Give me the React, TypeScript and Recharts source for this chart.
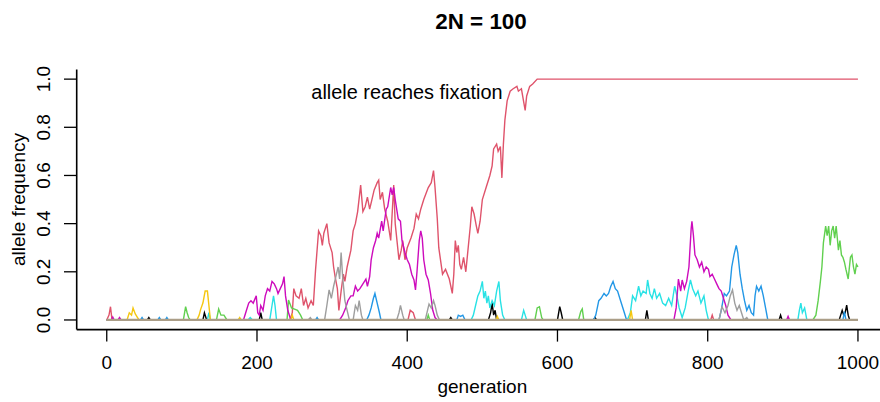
import { Line, LineChart, ReferenceDot, XAxis, YAxis } from 'recharts';

// generation / allele-frequency pairs, one list per replicate colour
const redPath: [number, number][] = [
    [0, 0], [3, 0.02], [5, 0.055], [7, 0], [244, 0], [247, 0.03], [249, 0.13], [252, 0.1], [256, 0.09],
    [259, 0.13], [262, 0.06], [265, 0.09], [268, 0.05], [272, 0.08], [275, 0.06], [278, 0.21], [282, 0.37],
    [285, 0.35], [287, 0.31], [289, 0.36], [293, 0.4], [296, 0.32], [300, 0.28], [302, 0.22], [304, 0.18],
    [307, 0.13], [309, 0.04], [312, 0.12], [315, 0.19], [317, 0.16], [320, 0.22], [325, 0.29], [328, 0.37],
    [331, 0.4], [334, 0.45], [338, 0.56], [341, 0.45], [344, 0.47], [347, 0.51], [350, 0.46], [353, 0.5],
    [356, 0.54], [360, 0.57], [362, 0.58], [364, 0.5], [367, 0.53], [370, 0.46], [374, 0.41], [378, 0.33],
    [382, 0.56], [384, 0.4], [389, 0.25], [392, 0.29], [394, 0.33], [397, 0.25], [400, 0.3], [405, 0.34],
    [409, 0.38], [412, 0.44], [415, 0.42], [418, 0.46], [422, 0.5], [428, 0.55], [432, 0.57], [435, 0.62],
    [437, 0.55], [440, 0.42], [442, 0.3], [447, 0.19], [451, 0.21], [456, 0.17], [460, 0.11], [462, 0.19],
    [464, 0.33], [466, 0.28], [468, 0.31], [470, 0.23], [472, 0.21], [475, 0.26], [478, 0.2], [484, 0.39],
    [486, 0.47], [489, 0.44], [492, 0.39], [494, 0.36], [497, 0.41], [500, 0.5], [505, 0.55], [510, 0.6],
    [513, 0.64], [515, 0.71], [519, 0.73], [521, 0.7], [524, 0.72], [526, 0.59], [528, 0.73], [530, 0.83],
    [533, 0.91], [537, 0.95], [541, 0.96], [546, 0.97], [548, 0.95], [552, 0.96], [557, 0.87], [559, 0.93],
    [563, 0.97], [567, 0.98], [573, 1], [1000, 1]
];
const red2Path: [number, number][] = [
    [0, 0], [401, 0], [404, 0.04], [408, 0.03], [411, 0], [804, 0], [806, 0.02], [808, 0], [1000, 0]
];
const magentaPath: [number, number][] = [
    [0, 0], [6, 0], [8, 0.012], [10, 0], [15, 0], [17, 0.01], [19, 0], [182, 0], [186, 0.04], [189, 0.07],
    [192, 0.08], [195, 0.07], [199, 0.1], [201, 0.03], [203, 0.02], [205, 0.06], [208, 0.04], [211, 0.1],
    [214, 0.13], [217, 0.12], [220, 0.16], [223, 0.15], [226, 0.13], [228, 0.11], [231, 0.13], [234, 0.15],
    [236, 0.18], [238, 0.1], [241, 0.04], [245, 0], [310, 0], [314, 0.02], [318, 0.05], [321, 0.08],
    [325, 0.1], [328, 0.1], [331, 0.14], [334, 0.12], [337, 0.13], [341, 0.15], [345, 0.17], [347, 0.14],
    [350, 0.18], [352, 0.25], [355, 0.3], [358, 0.33], [360, 0.36], [362, 0.34], [366, 0.41], [368, 0.37],
    [370, 0.415], [372, 0.46], [374, 0.47], [378, 0.55], [380, 0.52], [382, 0.55], [384, 0.5], [388, 0.42],
    [391, 0.41], [393, 0.33], [397, 0.28], [400, 0.25], [403, 0.23], [406, 0.19], [409, 0.166], [411, 0.125],
    [413, 0.2], [416, 0.33], [418, 0.37], [420, 0.34], [422, 0.25], [425, 0.19], [428, 0.166], [431, 0.11],
    [434, 0.04], [437, 0.01], [440, 0], [755, 0], [758, 0.05], [761, 0.17], [764, 0.12], [766, 0.166],
    [769, 0.13], [772, 0.16], [775, 0.22], [778, 0.38], [779, 0.41], [781, 0.35], [783, 0.27], [786, 0.25],
    [789, 0.22], [792, 0.24], [795, 0.2], [798, 0.22], [801, 0.21], [803, 0.18], [806, 0.19], [809, 0.17],
    [812, 0.15], [815, 0.13], [818, 0.12], [821, 0.09], [824, 0.06], [827, 0.02], [831, 0], [905, 0],
    [907, 0.015], [909, 0], [1000, 0]
];
const bluePath: [number, number][] = [
    [0, 0], [45, 0], [47, 0.01], [49, 0], [68, 0], [70, 0.01], [72, 0], [78, 0], [80, 0.01], [82, 0],
    [278, 0], [280, 0.01], [282, 0], [346, 0], [349, 0.02], [352, 0.05], [355, 0.09], [357, 0.11], [360, 0.07],
    [363, 0.03], [365, 0], [466, 0], [468, 0.02], [471, 0.015], [474, 0.02], [477, 0], [648, 0], [651, 0.02],
    [655, 0.08], [658, 0.09], [662, 0.11], [665, 0.1], [668, 0.11], [671, 0.14], [674, 0.16], [677, 0.13],
    [680, 0.12], [684, 0.08], [688, 0.04], [692, 0], [815, 0], [818, 0.04], [822, 0.11], [825, 0.1],
    [829, 0.12], [832, 0.22], [835, 0.27], [838, 0.31], [840, 0.28], [843, 0.19], [846, 0.13], [849, 0.08],
    [852, 0.04], [855, 0.06], [858, 0.03], [861, 0.02], [863, 0.1], [865, 0.14], [868, 0.12], [871, 0.14],
    [874, 0.1], [877, 0.05], [880, 0], [980, 0], [982, 0.035], [984, 0], [1000, 0]
];
const cyanPath: [number, number][] = [
    [0, 0], [134, 0], [136, 0.03], [138, 0], [188, 0], [191, 0.01], [194, 0], [217, 0], [220, 0.06],
    [222, 0.1], [224, 0.06], [226, 0], [485, 0], [488, 0.02], [491, 0.06], [494, 0.1], [497, 0.12], [500, 0.16],
    [502, 0.09], [504, 0.12], [506, 0.07], [508, 0.1], [510, 0.05], [513, 0.08], [516, 0.06], [519, 0.12],
    [522, 0.16], [524, 0.08], [527, 0.02], [530, 0], [552, 0], [555, 0.04], [557, 0.02], [559, 0], [693, 0],
    [697, 0.03], [700, 0.1], [704, 0.08], [708, 0.14], [711, 0.1], [714, 0.12], [718, 0.11], [720, 0.166],
    [723, 0.11], [726, 0.09], [729, 0.13], [732, 0.09], [736, 0.11], [740, 0.07], [744, 0.06], [748, 0.09],
    [752, 0.06], [756, 0.14], [759, 0.1], [762, 0.05], [766, 0.01], [770, 0.05], [774, 0.12], [777, 0.166],
    [780, 0.13], [784, 0.1], [787, 0.12], [791, 0.07], [795, 0.1], [798, 0.04], [801, 0], [920, 0], [922, 0.04],
    [924, 0.07], [926, 0.03], [929, 0.05], [932, 0], [1000, 0]
];
const greenPath: [number, number][] = [
    [0, 0], [102, 0], [105, 0.055], [107, 0.03], [109, 0.01], [111, 0], [146, 0], [149, 0.045], [152, 0.02],
    [156, 0.02], [160, 0], [240, 0], [242, 0.083], [246, 0.05], [250, 0.045], [254, 0.04], [258, 0.02],
    [261, 0], [426, 0], [428, 0.02], [430, 0], [570, 0], [573, 0.05], [576, 0.055], [579, 0.01], [581, 0],
    [628, 0], [631, 0.035], [633, 0.046], [635, 0], [940, 0], [944, 0.02], [947, 0.08], [950, 0.16],
    [952, 0.22], [954, 0.32], [957, 0.39], [959, 0.35], [961, 0.39], [963, 0.31], [965, 0.37], [967, 0.39],
    [969, 0.34], [971, 0.39], [974, 0.29], [976, 0.33], [978, 0.27], [980, 0.26], [982, 0.24], [984, 0.21],
    [987, 0.17], [990, 0.26], [992, 0.27], [994, 0.22], [996, 0.19], [998, 0.23], [1000, 0.22]
];
const yellowPath: [number, number][] = [
    [0, 0], [27, 0], [30, 0.03], [33, 0.02], [35, 0.05], [38, 0.025], [41, 0.01], [43, 0], [120, 0],
    [123, 0.02], [125, 0.044], [128, 0.07], [131, 0.12], [134, 0.12], [136, 0.06], [138, 0], [175, 0],
    [177, 0.01], [179, 0], [245, 0], [247, 0.02], [249, 0], [518, 0], [520, 0.015], [522, 0], [696, 0],
    [698, 0.04], [700, 0], [1000, 0]
];
const grayPath: [number, number][] = [
    [0, 0], [268, 0], [271, 0.01], [273, 0], [290, 0], [293, 0.06], [296, 0.125], [299, 0.09], [302, 0.14],
    [305, 0.18], [308, 0.22], [310, 0.17], [312, 0.28], [314, 0.18], [317, 0.08], [320, 0.04], [323, 0],
    [328, 0], [331, 0.06], [334, 0.04], [336, 0.08], [339, 0.02], [341, 0], [386, 0], [389, 0.03], [391, 0.06],
    [394, 0.02], [396, 0], [424, 0], [427, 0.04], [429, 0.066], [432, 0.05], [435, 0.08], [437, 0.06],
    [440, 0.02], [443, 0], [815, 0], [819, 0.055], [823, 0.03], [827, 0.06], [830, 0.1], [833, 0.125],
    [836, 0.07], [839, 0.04], [842, 0.06], [845, 0.03], [848, 0], [852, 0.01], [854, 0], [1000, 0]
];
const blackPath: [number, number][] = [
    [0, 0], [54, 0], [56, 0.01], [58, 0], [128, 0], [130, 0.03], [133, 0], [203, 0], [205, 0.03], [207, 0],
    [456, 0], [458, 0.01], [460, 0], [508, 0], [511, 0.03], [513, 0.07], [515, 0.02], [517, 0.04], [519, 0],
    [600, 0], [603, 0.055], [605, 0.03], [607, 0], [648, 0], [650, 0.01], [652, 0], [717, 0], [719, 0.04],
    [721, 0], [895, 0], [897, 0.02], [899, 0], [975, 0], [977, 0.02], [979, 0.04], [981, 0.02], [983, 0.03],
    [985, 0.062], [987, 0.02], [989, 0], [1000, 0]
];
// all replicates pile up at zero; their overlap reads as one tan line
const zeroPath: [number, number][] = [[0, 0], [1000, 0]];

const genTicks = [0, 200, 400, 600, 800, 1000];
const freqTicks = [0, 0.2, 0.4, 0.6, 0.8, 1.0];

const series = [
    { key: 'black', color: '#000000', path: blackPath },
    { key: 'red2', color: '#DF536B', path: red2Path },
    { key: 'red', color: '#DF536B', path: redPath },
    { key: 'green', color: '#61D04F', path: greenPath },
    { key: 'blue', color: '#2297E6', path: bluePath },
    { key: 'cyan', color: '#28E2E5', path: cyanPath },
    { key: 'magenta', color: '#CD0BBC', path: magentaPath },
    { key: 'yellow', color: '#F5C710', path: yellowPath },
    { key: 'gray', color: '#9E9E9E', path: grayPath }
];

const toRows = (path: [number, number][]) => path.map(([gen, freq]) => ({ gen, freq }));

const font = '"Liberation Sans", Arial, Helvetica, sans-serif';

const FreqTick = ({ x, y, payload }: any) => (
    <text
        x={x}
        y={y}
        transform={`rotate(-90 ${x} ${y})`}
        textAnchor='middle'
        fontSize={19}
        fontFamily={font}
        fill='#000'
    >
        {Number(payload.value).toFixed(1)}
    </text>
);

const FreqLabel = ({ viewBox }: any) => {
    const cy = viewBox.y + viewBox.height / 2;
    return (
        <text
            x={25}
            y={cy}
            transform={`rotate(-90 25 ${cy})`}
            textAnchor='middle'
            fontSize={19}
            fontFamily={font}
            fill='#000'
        >
            allele frequency
        </text>
    );
};

export default function App() {
    return (
        <div
            style={{
                position: 'absolute',
                left: 0,
                top: 0,
                width: 880,
                height: 402,
                overflow: 'hidden',
                background: '#fff',
                fontFamily: font
            }}
        >
            <div
                style={{
                    position: 'absolute',
                    left: 0,
                    top: 10.5,
                    width: 962,
                    textAlign: 'center',
                    fontSize: 22.4,
                    lineHeight: 1,
                    fontWeight: 700
                }}
            >
                2N = 100
            </div>
            <LineChart width={900} height={402} margin={{ top: 69.5, right: 12, bottom: 0, left: 0 }}>
                <XAxis
                    dataKey='gen'
                    type='number'
                    domain={[-40, 1040]}
                    ticks={genTicks}
                    interval={0}
                    height={72.4}
                    tickSize={12}
                    tickMargin={14}
                    tick={{ fontSize: 19, fill: '#000', fontFamily: font }}
                    axisLine={{ stroke: '#000', strokeWidth: 1.6 }}
                    tickLine={{ stroke: '#000', strokeWidth: 1.3 }}
                    label={{
                        value: 'generation',
                        position: 'insideBottom',
                        offset: 9,
                        fontSize: 19,
                        fill: '#000',
                        fontFamily: font
                    }}
                />
                <XAxis
                    xAxisId='top'
                    orientation='top'
                    type='number'
                    domain={[-40, 1040]}
                    height={0}
                    tick={false}
                    tickLine={false}
                    axisLine={{ stroke: '#000', strokeWidth: 1.6 }}
                />
                <YAxis
                    type='number'
                    domain={[-0.04, 1.04]}
                    ticks={freqTicks}
                    interval={0}
                    width={76.7}
                    tickSize={12.7}
                    tickMargin={14}
                    tick={<FreqTick />}
                    axisLine={{ stroke: '#000', strokeWidth: 1.6 }}
                    tickLine={{ stroke: '#000', strokeWidth: 1.3 }}
                    label={<FreqLabel />}
                />
                {series.map((s) => (
                    <Line
                        key={s.key}
                        data={toRows(s.path)}
                        dataKey='freq'
                        type='linear'
                        stroke={s.color}
                        strokeWidth={1.4}
                        dot={false}
                        activeDot={false}
                        isAnimationActive={false}
                    />
                ))}
                <Line
                    data={toRows(zeroPath)}
                    dataKey='freq'
                    stroke='#ab9e88'
                    strokeWidth={2.2}
                    dot={false}
                    activeDot={false}
                    isAnimationActive={false}
                />
                <ReferenceDot
                    x={527}
                    y={0.948}
                    r={0}
                    fill='none'
                    stroke='none'
                    label={{
                        value: 'allele reaches fixation',
                        position: 'left',
                        offset: 0,
                        fontSize: 19.9,
                        fill: '#000',
                        fontFamily: font
                    }}
                />
            </LineChart>
        </div>
    );
}
